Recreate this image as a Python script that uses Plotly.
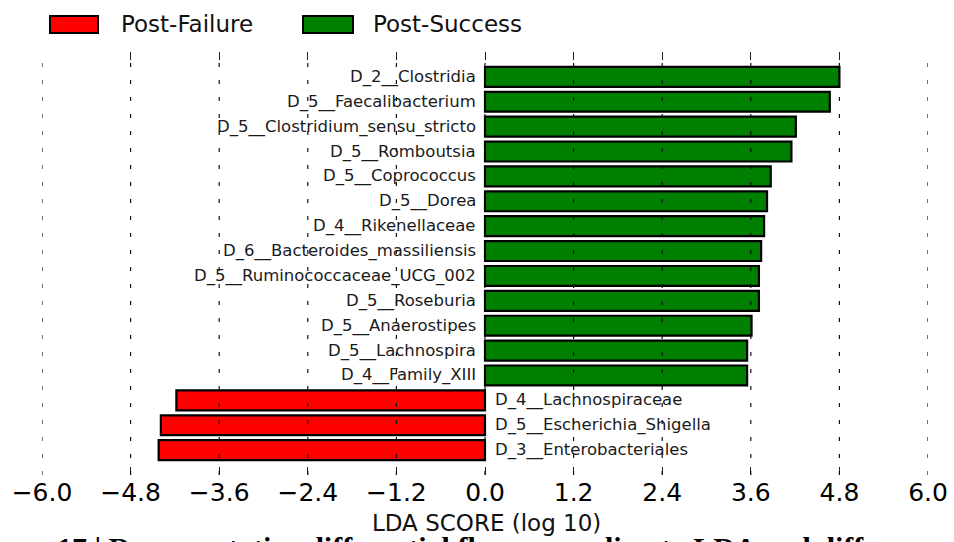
import plotly.graph_objects as go

# LDA effect sizes (log10) per taxon, listed top to bottom
taxa = [
    "D_2__Clostridia",
    "D_5__Faecalibacterium",
    "D_5__Clostridium_sensu_stricto",
    "D_5__Romboutsia",
    "D_5__Coprococcus",
    "D_5__Dorea",
    "D_4__Rikenellaceae",
    "D_6__Bacteroides_massiliensis",
    "D_5__Ruminococcaceae_UCG_002",
    "D_5__Roseburia",
    "D_5__Anaerostipes",
    "D_5__Lachnospira",
    "D_4__Family_XIII",
    "D_4__Lachnospiraceae",
    "D_5__Escherichia_Shigella",
    "D_3__Enterobacteriales",
]
lda_scores = [4.80, 4.67, 4.21, 4.15, 3.87, 3.82, 3.78, 3.74,
              3.71, 3.71, 3.61, 3.55, 3.55, -4.18, -4.39, -4.42]
groups = ["Post-Success"] * 13 + ["Post-Failure"] * 3
group_names = ["Post-Failure", "Post-Success"]
group_colors = {"Post-Failure": "#ff0000", "Post-Success": "#008000"}
tick_values = [-6.0, -4.8, -3.6, -2.4, -1.2, 0.0, 1.2, 2.4, 3.6, 4.8, 6.0]
tick_labels = ["\u22126.0", "\u22124.8", "\u22123.6", "\u22122.4", "\u22121.2",
               "0.0", "1.2", "2.4", "3.6", "4.8", "6.0"]
x_title = "LDA SCORE (log 10)"
caption = "17 | Representative differential flora according to LDA and differences in"

n = len(taxa)
ypos = [n - 1 - i for i in range(n)]

fig = go.Figure()
for g in group_names:
    idx = [i for i in range(n) if groups[i] == g]
    fig.add_trace(go.Bar(
        x=[lda_scores[i] for i in idx],
        y=[ypos[i] for i in idx],
        orientation="h",
        width=0.8,
        name=g,
        marker=dict(color=group_colors[g], line=dict(color="#000000", width=2.2)),
        showlegend=False,
        hoverinfo="x+name",
    ))

# taxon labels sit on the opposite side of zero from their bar
for i in range(n):
    positive = lda_scores[i] > 0
    fig.add_annotation(
        x=0, y=ypos[i], xref="x", yref="y",
        text=taxa[i], showarrow=False,
        xanchor="right" if positive else "left",
        xshift=-7 if positive else 8,
        font=dict(family="DejaVu Sans", size=16.5, color="#1a1a1a"),
    )

# dashed vertical grid drawn over the bars
for v in tick_values:
    fig.add_shape(type="line", xref="x", yref="paper", x0=v, x1=v, y0=0, y1=1,
                  layer="above", line=dict(color="#111111", width=1.2, dash="4px,13px"))

# legend: wide colour swatches with their names
legend_items = [(group_names[0], 50, 98, 119), (group_names[1], 303, 353, 371)]
W, H = 954, 542
ML, MR, MT, MB = 42, 26, 52, 67
pw, ph = W - ML - MR, H - MT - MB


def px_to_paper_x(px):
    return (px - ML) / pw


def px_to_paper_y(py):
    return (H - MB - py) / ph


for name, x0, x1, xt in legend_items:
    fig.add_shape(type="rect", xref="paper", yref="paper",
                  x0=px_to_paper_x(x0), x1=px_to_paper_x(x1),
                  y0=px_to_paper_y(33), y1=px_to_paper_y(16),
                  fillcolor=group_colors[name], line=dict(color="#000000", width=2))
    fig.add_annotation(x=px_to_paper_x(xt), y=px_to_paper_y(24.5), xref="paper", yref="paper",
                       text=name, showarrow=False, xanchor="left", yanchor="middle",
                       font=dict(family="DejaVu Sans", size=23, color="#111111"))

# figure caption running off the bottom edge
fig.add_annotation(x=px_to_paper_x(55), y=px_to_paper_y(529), xref="paper", yref="paper",
                   text="<b>" + caption + "</b>", showarrow=False, xanchor="left", yanchor="top",
                   font=dict(family="Liberation Serif", size=30, color="#000000"))

fig.add_annotation(x=px_to_paper_x(487), y=px_to_paper_y(523), xref="paper", yref="paper",
                   text=x_title, showarrow=False, xanchor="center", yanchor="middle",
                   font=dict(family="DejaVu Sans", size=23, color="#111111"))

fig.update_layout(
    width=W, height=H,
    margin=dict(l=ML, r=MR, t=MT, b=MB, pad=0, autoexpand=False),
    paper_bgcolor="white", plot_bgcolor="white",
    bargap=0.2,
    xaxis=dict(
        range=[-6, 6], tickmode="array", tickvals=tick_values, ticktext=tick_labels,
        showgrid=False, zeroline=False, showline=False, automargin=False,
        ticks="inside", ticklen=8, tickwidth=1, tickcolor="#222222", mirror="ticks",
        tickfont=dict(family="DejaVu Sans", size=25, color="#000000"),
        fixedrange=True,
    ),
    yaxis=dict(
        range=[-1, 16], showticklabels=False, showgrid=False, zeroline=False,
        showline=False, ticks="", fixedrange=True, automargin=False,
    ),
)

fig.write_html("out.html")
